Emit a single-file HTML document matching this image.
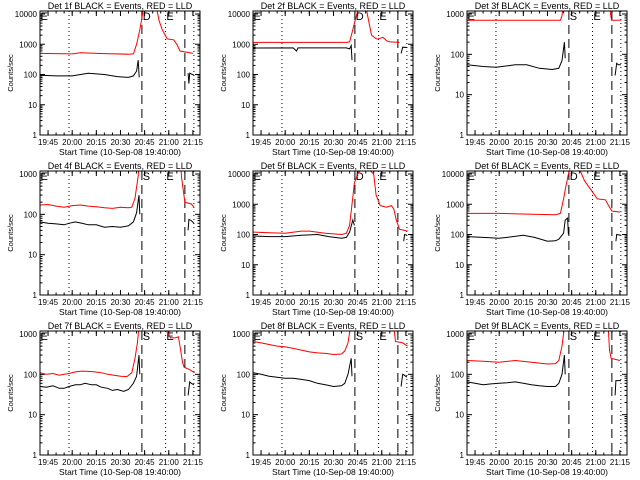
<!DOCTYPE html>
<html><head><meta charset="utf-8"><style>
html,body{margin:0;padding:0;background:#fff;}
svg{display:block;font-family:"Liberation Sans",sans-serif;}
</style></head><body>
<svg id="chart" width="640" height="480" viewBox="0 0 640 480"></svg>
<script>
// time in minutes since 19:40:00; values in counts/sec
const tickLabels = ["19:45","20:00","20:15","20:30","20:45","21:00","21:15"];
const tickTimes = [5,20,35,50,65,80,95];
const dottedTimes = [18,78,95.6];
const dashedTimes = [63.3,90];
const detNames = ["1f","2f","3f","4f","5f","6f","7f","8f","9f"];
const detTopDecade = [4,4,3,3,4,4,3,3,3];
const markLetters = [["E","D","E"],["E","D","E"],["E","S","E"],["E","S","E"],["E","D","E"],["E","D","E"],["E","S","E"],["E","S","E"],["E","S","E"]];

const det1Black = [[0,95],[10,90],[20,90],[30,110],[40,100],[48,85],[55,80],[58,90],[60,130],[61,300],[61.6,80],null,[92,110],[92.5,50],[93,110],[95.6,95]];
const det1Red = [[0,500],[20,480],[25,520],[40,490],[55,470],[58,480],[60,1000],[62,3000],[64,12000],[65,20000],null,[72,20000],[74,6000],[76,3000],[79,1500],[83,1400],[85,1000],[87,600],[95,500]];
const det2Black = [[0,750],[25,760],[27,600],[28,760],[58,760],[60,700],[61,900],[61.5,300],null,[92,500],[93,800],[95.6,780]];
const det2Red = [[0,1150],[58,1150],[60,1200],[62,3000],[64.5,10000],[66,20000],null,[70,20000],[71,10000],[73.6,2000],[76.6,1500],[78,1500],[80.7,1700],[83,1300],[85,1200],[91,1150]];
const det3Black = [[0,55],[10,50],[18,48],[30,55],[37,55],[45,45],[53,42],[57,45],[59,70],[60.5,200],[61,80],null,[92,30],[93,60],[94,55],[95.6,55]];
const det3Red = [[0,700],[58,700],[59,900],[60.5,3000],null,[87.5,3000],[89.8,700],[95.6,700]];
const det4Black = [[0,65],[5,60],[10,58],[15,55],[18,60],[22,65],[26,60],[30,55],[35,55],[40,48],[45,50],[50,48],[55,52],[58,65],[60,110],[61.5,300],[62,100],null,[92,40],[92.5,75],[94,70],[95.6,60]];
const det4Red = [[0,170],[5,175],[10,160],[15,150],[20,165],[25,170],[30,160],[35,155],[40,145],[45,140],[50,150],[55,145],[57,150],[59,250],[61,900],[62,3000],null,[87,3000],[88,800],[90,200],[94,180],[95.6,150]];
const det5Black = [[0,90],[10,85],[20,85],[30,95],[40,100],[47,85],[55,75],[58,80],[60,120],[62,300],[63,200],null,[93.6,60],[94.2,100],[95.6,95]];
const det5Red = [[0,120],[10,115],[20,110],[30,130],[35,130],[45,110],[55,100],[58,110],[60,200],[61.5,1000],[63,5000],[65,10000],[67,14000],null,[72,14000],[75,10000],[76.5,2000],[79,900],[83,800],[86,900],[87.5,700],[89,300],[91,150],[96,130]];
const det6Black = [[0,85],[10,80],[20,75],[25,80],[35,95],[42,80],[50,60],[55,62],[57,70],[60,110],[61,300],[62.5,350],[63,100],null,[92.5,60],[93,100],[95.6,95]];
const det6Red = [[0,500],[20,500],[40,470],[55,450],[58,500],[60,1500],[61,3000],[63,10000],[64,14000],null,[70,14000],[73,6000],[77,3000],[81,1500],[86,1400],[88,900],[90,600],[95,550]];
const det7Black = [[0,50],[4,48],[8,52],[12,45],[15,45],[18,50],[22,55],[25,55],[28,60],[32,55],[35,55],[38,48],[42,45],[45,40],[48,42],[52,38],[55,42],[58,60],[60,90],[61.5,300],[62,100],null,[92,30],[93,65],[94,60],[95.6,55]];
const det7Red = [[0,110],[4,100],[8,105],[12,95],[15,100],[18,105],[22,115],[26,120],[30,118],[34,115],[38,110],[42,100],[46,95],[50,90],[54,88],[57,110],[59,250],[60.5,600],[61.5,1500],null,[78.7,1500],[79,1100],[81,800],[84,800],[86,850],[87,500],[88.5,200],[89.5,150],[93,130],[96,110]];
const det8Black = [[0,110],[5,100],[10,90],[15,85],[20,80],[25,80],[30,75],[35,70],[40,60],[45,55],[50,50],[55,52],[57,60],[59,100],[61,250],[61.5,90],null,[92,50],[93,100],[94,95],[95.6,85]];
const det8Red = [[0,650],[5,600],[10,550],[15,500],[20,480],[25,440],[30,400],[35,360],[40,340],[45,330],[50,310],[55,320],[57,380],[59,600],[60.5,1500],null,[87.5,1500],[88.5,650],[93,600],[96,500]];
const det9Black = [[0,65],[5,60],[10,55],[15,58],[20,60],[25,62],[30,65],[35,60],[40,55],[45,52],[50,50],[55,50],[57,60],[59,100],[60.5,300],[61,100],null,[92,30],[92.5,70],[95.6,70]];
const det9Red = [[0,220],[10,210],[20,200],[30,220],[40,200],[50,180],[55,185],[57,220],[59,500],[60.5,1500],null,[87.7,1500],[88.5,400],[89.5,250],[95,220]];

const blackSeries = [det1Black,det2Black,det3Black,det4Black,det5Black,det6Black,det7Black,det8Black,det9Black];
const redSeries = [det1Red,det2Red,det3Red,det4Red,det5Red,det6Red,det7Red,det8Red,det9Red];

const NS = "http://www.w3.org/2000/svg";
const svg = document.getElementById("chart");
const colLeft = [40,253,467];
const boxW = 160, boxTop = 11, boxBot = 135, labelTopY = 14;
const tMax = 99.4;

function mk(tag, attrs, parent){
  const e = document.createElementNS(NS, tag);
  for (const k in attrs) e.setAttribute(k, attrs[k]);
  (parent||svg).appendChild(e);
  return e;
}

for (let p = 0; p < 9; p++) {
  const L = colLeft[p % 3], R = L + boxW;
  const oy = Math.floor(p / 3) * 160;
  const T = boxTop + oy, B = boxBot + oy;
  const top = detTopDecade[p];
  const dec = (B - (labelTopY + oy)) / top;
  const xs = t => L + (t / tMax) * boxW;
  const ys = v => B - Math.log10(v) * dec;

  const g = mk("g", {});
  
  

  const cp = mk("clipPath", {id: "clip" + p}, g);
  mk("rect", {x: L, y: T, width: boxW, height: B - T}, cp);

  const title = mk("text", {x: (L + R) / 2, y: T - 2, "text-anchor": "middle", "font-size": "9"}, g);
  title.textContent = "Det " + detNames[p] + " BLACK = Events, RED = LLD";
  
  

  for (let d = 0; d <= top; d++) {
    const y = ys(Math.pow(10, d));
    mk("line", {x1: L, x2: L + 5, y1: y, y2: y, stroke: "#000"}, g);
    mk("line", {x1: R, x2: R - 5, y1: y, y2: y, stroke: "#000"}, g);
    const lab = mk("text", {x: L - 3, y: y + 3, "text-anchor": "end", "font-size": "8"}, g);
    lab.textContent = String(Math.pow(10, d));
    
    
    for (let m = 2; m <= 9; m++) {
      const ym = ys(m * Math.pow(10, d));
      if (ym < T) break;
      mk("line", {x1: L, x2: L + 2.5, y1: ym, y2: ym, stroke: "#000"}, g);
      mk("line", {x1: R, x2: R - 2.5, y1: ym, y2: ym, stroke: "#000"}, g);
    }
  }
  const yt = mk("text", {transform: "translate(" + (L - 27) + "," + ((T + B) / 2) + ") rotate(-90)", "text-anchor": "middle", "font-size": "7.5"}, g);
  yt.textContent = "Counts/sec";
  
  

  for (let i = 0; i < tickTimes.length; i++) {
    const x = xs(tickTimes[i]);
    mk("line", {x1: x, x2: x, y1: B, y2: B - 5, stroke: "#000"}, g);
    mk("line", {x1: x, x2: x, y1: T, y2: T + 5, stroke: "#000"}, g);
    const lab = mk("text", {x: x, y: B + 10, "text-anchor": "middle", "font-size": "8"}, g);
    lab.textContent = tickLabels[i];
    
    
  }
  for (let t = 0; t <= tMax; t += 5) {
    const x = xs(t);
    mk("line", {x1: x, x2: x, y1: B, y2: B - 2.5, stroke: "#000"}, g);
    mk("line", {x1: x, x2: x, y1: T, y2: T + 2.5, stroke: "#000"}, g);
  }
  const xt = mk("text", {x: (L + R) / 2, y: B + 20, "text-anchor": "middle", "font-size": "8.5"}, g);
  xt.textContent = "Start Time (10-Sep-08 19:40:00)";
  
  

  dottedTimes.forEach(t => {
    const ln = mk("line", {x1: xs(t), x2: xs(t), y1: T, y2: B, stroke: "#000", "stroke-dasharray": "1 3"}, g);
    
    
  });
  dashedTimes.forEach(t => {
    const ln = mk("line", {x1: xs(t), x2: xs(t), y1: T, y2: B, stroke: "#000", "stroke-dasharray": "9 5"}, g);
    
    
  });
  const letterT = [0.3, dashedTimes[0] + 0.5, dottedTimes[1] + 0.5];
  for (let i = 0; i < 3; i++) {
    const tx = mk("text", {x: xs(letterT[i]), y: T + 9, "font-size": "11"}, g);
    tx.textContent = markLetters[p][i];
    
    
  }

  function drawSeries(arr, color, name) {
    let d = "", pen = false;
    arr.forEach(pt => {
      if (pt === null) { pen = false; return; }
      d += (pen ? "L" : "M") + xs(pt[0]).toFixed(1) + " " + ys(pt[1]).toFixed(1);
      pen = true;
    });
    const path = mk("path", {d: d, fill: "none", stroke: color, "stroke-width": "1", "clip-path": "url(#clip" + p + ")"}, g);
    
    
  }
  drawSeries(redSeries[p], "#ff0000", "lld-red-series");
  drawSeries(blackSeries[p], "#000000", "events-black-series");

  const box = mk("rect", {x: L, y: T, width: boxW, height: B - T, fill: "none", stroke: "#000"}, g);
  
  
}
</script>
</body></html>
